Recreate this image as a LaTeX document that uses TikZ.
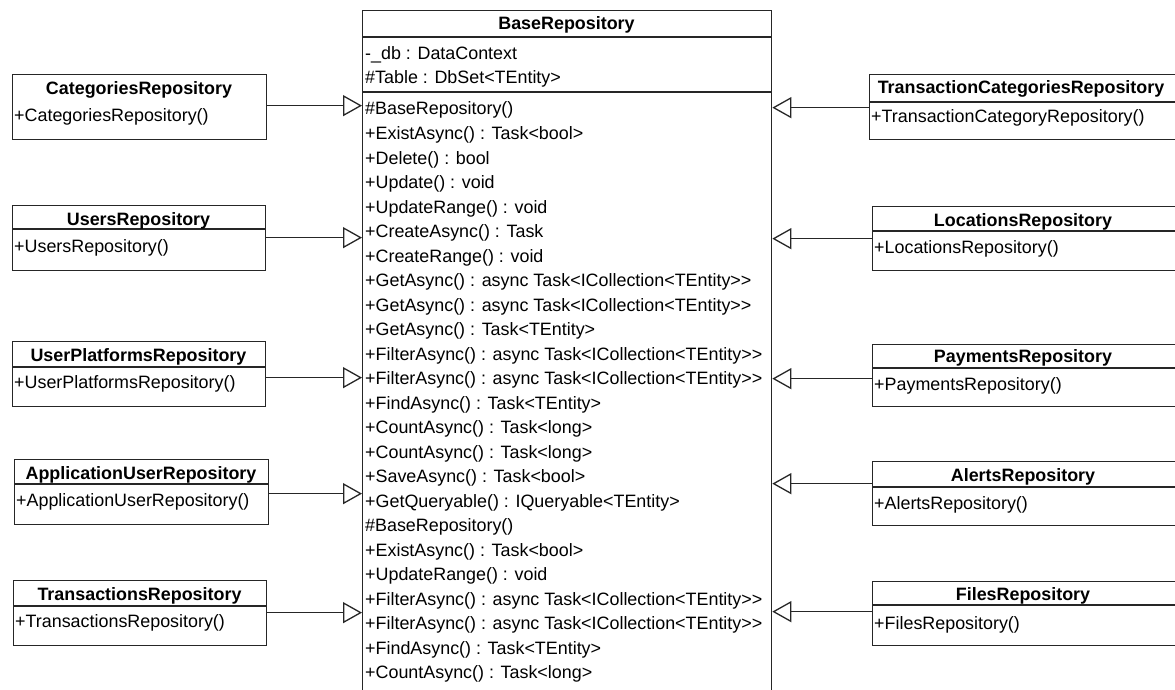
\documentclass[tikz,border=0pt]{standalone}
\usepackage{fontspec}
\setmainfont{Liberation Sans}
\usetikzlibrary{arrows.meta}
\begin{document}
\begin{tikzpicture}[x=1pt,y=-1pt,
  umlbox/.style={draw=black!85, line width=1.3pt, rectangle, inner sep=0pt, anchor=north west},
  sep/.style={draw=black!85, line width=1.3pt},
  title/.style={font=\fontsize{17.9}{20}\selectfont\bfseries, anchor=base, inner sep=0pt},
  member/.style={font=\fontsize{17.9}{20}\selectfont, anchor=base west, inner sep=0pt},
  inherit/.style={draw=black!85, line width=1.3pt, -{Triangle[open,length=19pt,width=21pt]}}]
\useasboundingbox (0,0) rectangle (1175,690);

% ---------- base class ----------
\node[umlbox, minimum width=409pt, minimum height=700pt] (base) at (362,10) {};
\draw[sep] (base.west |- 0,37) -- (base.east |- 0,37);
\draw[sep] (base.west |- 0,92) -- (base.east |- 0,92);
\node[title] (baseT) at (566.5,29.5) {BaseRepository};
\node[member] (attr1) at (365,60) {-\_db : DataContext};
\node[member] (attr2) at (365,83.5) {\#Table : DbSet<TEntity>};
\foreach \m [count=\i from 0] in {
  \#BaseRepository(),
  +ExistAsync() : Task<bool>,
  +Delete() : bool,
  +Update() : void,
  +UpdateRange() : void,
  +CreateAsync() : Task,
  +CreateRange() : void,
  +GetAsync() : async Task<ICollection<TEntity>{}>,
  +GetAsync() : async Task<ICollection<TEntity>{}>,
  +GetAsync() : Task<TEntity>,
  +FilterAsync() : async Task<ICollection<TEntity>{}>,
  +FilterAsync() : async Task<ICollection<TEntity>{}>,
  +FindAsync() : Task<TEntity>,
  +CountAsync() : Task<long>,
  +CountAsync() : Task<long>,
  +SaveAsync() : Task<bool>,
  +GetQueryable() : IQueryable<TEntity>,
  \#BaseRepository(),
  +ExistAsync() : Task<bool>,
  +UpdateRange() : void,
  +FilterAsync() : async Task<ICollection<TEntity>{}>,
  +FilterAsync() : async Task<ICollection<TEntity>{}>,
  +FindAsync() : Task<TEntity>,
  +CountAsync() : Task<long>}
  \node[member] (op\i) at (365,{115+24.52*\i}) {\m};

% ---------- left subclasses ----------
\node[umlbox, minimum width=254pt, minimum height=65pt] (cat) at (12,74) {};
\node[title] (catT) at (139,95) {CategoriesRepository};
\node[member] (catM) at (14,121.5) {+CategoriesRepository()};

\node[umlbox, minimum width=253pt, minimum height=65pt] (usr) at (12,205) {};
\draw[sep] (usr.west |- 0,229) -- (usr.east |- 0,229);
\node[title] (usrT) at (138.5,225) {UsersRepository};
\node[member] (usrM) at (14,252.5) {+UsersRepository()};

\node[umlbox, minimum width=253pt, minimum height=65pt] (upl) at (12,341) {};
\draw[sep] (upl.west |- 0,367) -- (upl.east |- 0,367);
\node[title] (uplT) at (138.5,361) {UserPlatformsRepository};
\node[member] (uplM) at (14,388.5) {+UserPlatformsRepository()};

\node[umlbox, minimum width=254pt, minimum height=65pt] (app) at (14,459) {};
\draw[sep] (app.west |- 0,484) -- (app.east |- 0,484);
\node[title] (appT) at (141,479) {ApplicationUserRepository};
\node[member] (appM) at (16,506.5) {+ApplicationUserRepository()};

\node[umlbox, minimum width=253pt, minimum height=65pt] (trn) at (13,580) {};
\draw[sep] (trn.west |- 0,606) -- (trn.east |- 0,606);
\node[title] (trnT) at (139.5,600) {TransactionsRepository};
\node[member] (trnM) at (15,627.5) {+TransactionsRepository()};

% ---------- right subclasses ----------
\node[umlbox, minimum width=310pt, minimum height=65pt] (tcat) at (869,74) {};
\draw[sep] (tcat.west |- 0,102) -- (tcat.east |- 0,102);
\node[title] (tcatT) at (1021,94) {TransactionCategoriesRepository};
\node[member] (tcatM) at (871,123) {+TransactionCategoryRepository()};

\node[umlbox, minimum width=307pt, minimum height=64pt] (loc) at (872,206) {};
\draw[sep] (loc.west |- 0,231) -- (loc.east |- 0,231);
\node[title] (locT) at (1023,226) {LocationsRepository};
\node[member] (locM) at (874,253.5) {+LocationsRepository()};

\node[umlbox, minimum width=307pt, minimum height=62pt] (pay) at (872,344) {};
\draw[sep] (pay.west |- 0,368) -- (pay.east |- 0,368);
\node[title] (payT) at (1023,362) {PaymentsRepository};
\node[member] (payM) at (874,390.5) {+PaymentsRepository()};

\node[umlbox, minimum width=307pt, minimum height=64pt] (alr) at (872,461) {};
\draw[sep] (alr.west |- 0,487) -- (alr.east |- 0,487);
\node[title] (alrT) at (1023,481) {AlertsRepository};
\node[member] (alrM) at (874,509.5) {+AlertsRepository()};

\node[umlbox, minimum width=307pt, minimum height=64pt] (fil) at (872,581) {};
\draw[sep] (fil.west |- 0,605) -- (fil.east |- 0,605);
\node[title] (filT) at (1023,600) {FilesRepository};
\node[member] (filM) at (874,629.5) {+FilesRepository()};

% ---------- generalisations ----------
\draw[inherit] ([yshift=1.5pt]cat.east) -- ([yshift=1.5pt]cat.east -| base.west);
\draw[inherit] ([yshift=0.5pt]usr.east) -- ([yshift=0.5pt]usr.east -| base.west);
\draw[inherit] ([yshift=-3.5pt]upl.east) -- ([yshift=-3.5pt]upl.east -| base.west);
\draw[inherit] ([yshift=-1.5pt]app.east) -- ([yshift=-1.5pt]app.east -| base.west);
\draw[inherit] ([yshift=0.5pt]trn.east) -- ([yshift=0.5pt]trn.east -| base.west);

\draw[inherit] ([yshift=-0.5pt]tcat.west) -- ([yshift=-0.5pt]tcat.west -| base.east);
\draw[inherit] (loc.west) -- (loc.west -| base.east);
\draw[inherit] ([yshift=-3pt]pay.west) -- ([yshift=-3pt]pay.west -| base.east);
\draw[inherit] ([yshift=10pt]alr.west) -- ([yshift=10pt]alr.west -| base.east);
\draw[inherit] ([yshift=2pt]fil.west) -- ([yshift=2pt]fil.west -| base.east);
\end{tikzpicture}
\end{document}
